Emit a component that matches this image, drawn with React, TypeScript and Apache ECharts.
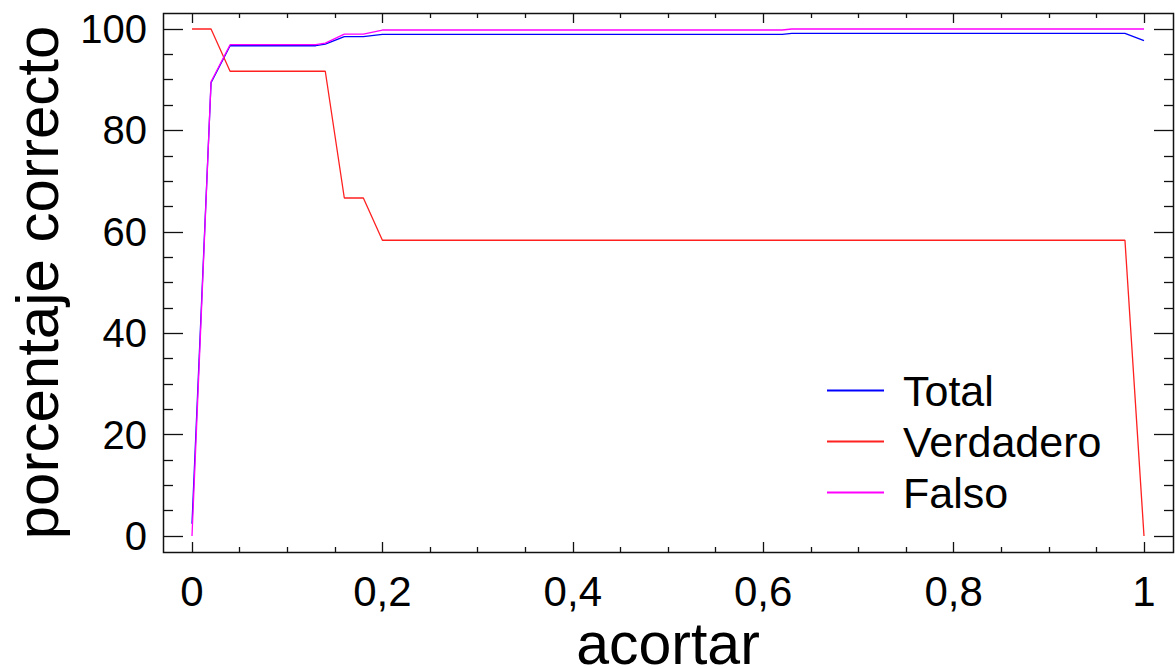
import React, { useEffect, useRef } from "react";
import * as echarts from "echarts";

// Tick labels
const xTickValues = [0, 0.2, 0.4, 0.6, 0.8, 1];
const yTickValues = [0, 20, 40, 60, 80, 100];

// Series: Total
const totalX = [0, 0.02, 0.04, 0.13, 0.14, 0.16, 0.18, 0.2, 0.62, 0.63, 0.98, 1.0];
const totalY = [2.4, 89.4, 96.7, 96.7, 97.0, 98.5, 98.5, 98.95, 98.95, 99.15, 99.15, 97.7];

// Series: Verdadero
const verdX = [0, 0.02, 0.04, 0.14, 0.16, 0.18, 0.2, 0.98, 1.0];
const verdY = [100, 100, 91.67, 91.67, 66.67, 66.67, 58.33, 58.33, 0];

// Series: Falso
const falsoX = [0, 0.02, 0.04, 0.13, 0.14, 0.16, 0.18, 0.2, 0.62, 0.63, 1.0];
const falsoY = [0, 89.6, 96.9, 96.9, 97.2, 99.0, 99.0, 99.8, 99.8, 100, 100];

const seriesNames = ["Total", "Verdadero", "Falso"];
const seriesColors = ["#0000ff", "#ff2020", "#ff00ff"];

const FONT = "'Liberation Sans', Arial, sans-serif";

const zip = (xs: number[], ys: number[]) => xs.map((x, i) => [x, ys[i]]);

const fmtX = (v: number) => {
  const r = Math.round(v * 10) / 10;
  return r === 0 || r === 1 ? String(r) : r.toFixed(1).replace(".", ",");
};

export default function App() {
  const ref = useRef<HTMLDivElement>(null);

  useEffect(() => {
    if (!ref.current) return;
    const chart = echarts.init(ref.current, undefined, { renderer: "svg" });
    const tickLine = { color: "#111", width: 1.3 };
    const xMin = xTickValues[0];
    const xMax = xTickValues[xTickValues.length - 1];
    const xInt = xTickValues[1] - xTickValues[0];
    const yMin = yTickValues[0];
    const yMax = yTickValues[yTickValues.length - 1];
    const yInt = yTickValues[1] - yTickValues[0];

    const xCommon = {
      type: "value",
      min: xMin,
      max: xMax,
      interval: xInt,
      offset: 16,
      axisLine: { show: false, onZero: false },
      axisTick: { show: true, inside: true, length: 10, lineStyle: tickLine },
      minorTick: { show: true, splitNumber: 4, length: 5, lineStyle: tickLine },
      splitLine: { show: false },
      minorSplitLine: { show: false },
    };
    const yCommon = {
      type: "value",
      min: yMin,
      max: yMax,
      interval: yInt,
      axisLine: { show: false, onZero: false },
      axisTick: { show: true, inside: true, length: 20, lineStyle: tickLine },
      minorTick: { show: true, splitNumber: 4, length: 10, lineStyle: tickLine },
      splitLine: { show: false },
      minorSplitLine: { show: false },
    };

    const datas = [zip(totalX, totalY), zip(verdX, verdY), zip(falsoX, falsoY)];

    chart.setOption({
      animation: false,
      backgroundColor: "#fff",
      grid: {
        left: 192,
        right: 31,
        top: 29,
        bottom: 133,
        containLabel: false,
        outerBoundsMode: "none",
      },
      xAxis: [
        {
          ...xCommon,
          position: "bottom",
          axisLabel: {
            show: true,
            formatter: fmtX,
            fontSize: 42,
            color: "#000",
            fontFamily: FONT,
            margin: 18,
            showMinLabel: true,
            showMaxLabel: true,
          },
          name: "acortar",
          nameLocation: "middle",
          nameGap: 69,
          nameMoveOverlap: false,
          nameTextStyle: { fontSize: 59, lineHeight: 46, color: "#000", fontFamily: FONT },
        },
        { ...xCommon, position: "top", axisLabel: { show: false } },
      ],
      yAxis: [
        {
          ...yCommon,
          position: "left",
          offset: 29,
          axisLabel: {
            show: true,
            fontSize: 40,
            color: "#000",
            fontFamily: FONT,
            margin: 16,
            showMinLabel: true,
            showMaxLabel: true,
          },
          name: "porcentaje correcto",
          nameLocation: "middle",
          nameRotate: 90,
          nameGap: 96,
          nameMoveOverlap: false,
          nameTextStyle: { fontSize: 60, color: "#000", fontFamily: FONT },
        },
        { ...yCommon, position: "right", offset: 30, axisLabel: { show: false } },
      ],
      legend: {
        orient: "vertical",
        left: 822,
        top: 364,
        itemWidth: 57,
        itemHeight: 2,
        itemGap: 8,
        icon: "rect",
        data: seriesNames,
        textStyle: {
          fontSize: 43,
          lineHeight: 42,
          color: "#000",
          fontFamily: FONT,
          padding: [0, 0, 0, 14],
        },
      },
      graphic: [
        {
          type: "rect",
          silent: true,
          z: 100,
          shape: { x: 163.5, y: 13.5, width: 1010, height: 539 },
          style: { fill: "none", stroke: "#111", lineWidth: 1.5 },
        },
      ],
      series: seriesNames.map((name, i) => ({
        name,
        type: "line",
        data: datas[i],
        showSymbol: false,
        symbol: "none",
        clip: false,
        lineStyle: { color: seriesColors[i], width: 1.3 },
        itemStyle: { color: seriesColors[i] },
      })),
    });
    return () => chart.dispose();
  }, []);

  return (
    <div
      ref={ref}
      style={{ position: "absolute", left: 0, top: 0, width: 1175, height: 669 }}
    />
  );
}
